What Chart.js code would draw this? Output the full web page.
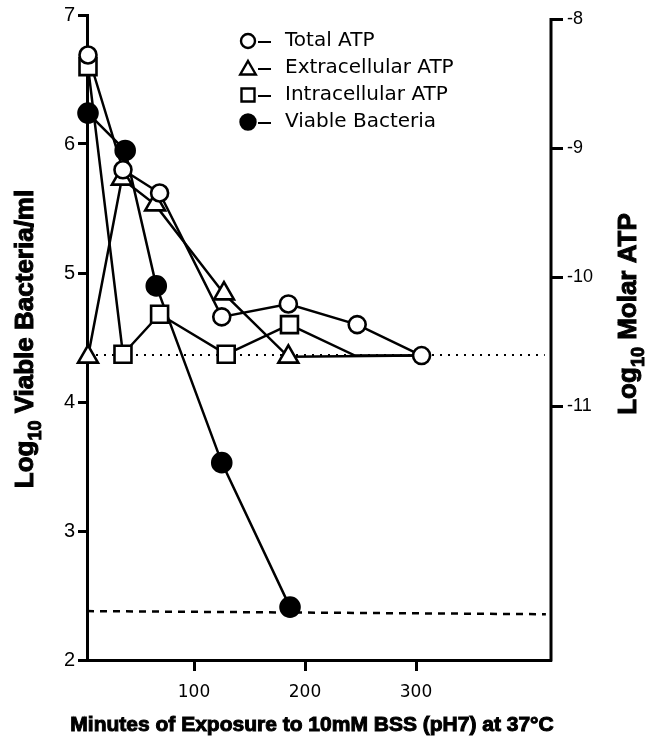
<!DOCTYPE html>
<html><head><meta charset="utf-8">
<script src="https://cdn.jsdelivr.net/npm/chart.js@4.4.1/dist/chart.umd.min.js"></script>
<style>html,body{margin:0;padding:0;background:#fff;} #wrap{width:657px;height:738px;}</style>
</head><body><div id="wrap"><canvas id="c" width="657" height="738"></canvas></div>
<script>
// ---- data ----
const xTicks = [100, 200, 300];
const leftTicks = [2, 3, 4, 5, 6, 7];
const rightTicks = [-11, -10, -9, -8];
const seriesLabels = ['Total ATP', 'Extracellular ATP', 'Intracellular ATP', 'Viable Bacteria'];
const totalX = [4.5, 36, 69, 125, 185, 247, 305];
const totalY = [6.69, 5.80, 5.62, 4.66, 4.76, 4.60, 4.36];
const extraX = [4.5, 35, 65, 127, 185, 305];
const extraY = [4.35, 5.73, 5.53, 4.84, 4.35, 4.36];
const extraMarker = [1, 1, 1, 1, 1, 0];
const intraX = [4.5, 36, 69, 129, 186, 245, 305];
const intraY = [6.60, 4.37, 4.68, 4.37, 4.60, 4.36, 4.36];
const intraMarker = [1, 1, 1, 1, 1, 0, 0];
const viableX = [4.5, 38, 66, 125, 186.5];
const viableY = [6.24, 5.95, 4.90, 3.53, 2.41];
const atpLimitX = [4.5, 416];
const atpLimitY = [4.365, 4.365];
const bactLimitX = [3.6, 417];
const bactLimitY = [2.379, 2.355];

const pts = (xs, ys) => xs.map((x, i) => ({x: x, y: ys[i]}));

const base = {type: 'line', clip: false, borderColor: '#000', tension: 0};
const markerDs = (label, xs, ys, style, r, fill, mask) => Object.assign({}, base, {
  label: label, data: pts(xs, ys), showLine: false, pointStyle: style,
  pointRadius: mask ? mask.map(m => m ? r : 0) : r,
  pointBackgroundColor: fill, pointBorderColor: '#000', pointBorderWidth: 2.6
});
const lineDs = (xs, ys, extra) => Object.assign({}, base, {
  label: '', data: pts(xs, ys), pointRadius: 0, borderWidth: 2.5
}, extra || {});

const datasets = [
  markerDs(seriesLabels[0], totalX, totalY, 'circle', 8.5, '#fff'),
  markerDs(seriesLabels[3], viableX, viableY, 'circle', 9.5, '#000'),
  markerDs(seriesLabels[1], extraX, extraY, 'triangle', 11.5, '#fff', extraMarker),
  markerDs(seriesLabels[2], intraX, intraY, 'rect', 12, '#fff', intraMarker),
  lineDs(totalX, totalY),
  lineDs(viableX, viableY),
  lineDs(extraX, extraY),
  lineDs(intraX, intraY),
  lineDs(atpLimitX, atpLimitY, {borderWidth: 2, borderDash: [2, 6]}),
  lineDs(bactLimitX, bactLimitY, {borderWidth: 2.5, borderDash: [7, 6]})
];

function drawMarker(ctx, style, x, y, r, fill) {
  ctx.save();
  ctx.lineWidth = 2.4; ctx.strokeStyle = '#000'; ctx.fillStyle = fill;
  ctx.beginPath();
  if (style === 'circle') ctx.arc(x, y, r, 0, Math.PI * 2);
  else if (style === 'triangle') {
    ctx.moveTo(x, y - r); ctx.lineTo(x + r * 0.866, y + r * 0.5); ctx.lineTo(x - r * 0.866, y + r * 0.5); ctx.closePath();
  } else { ctx.rect(x - r, y - r, 2 * r, 2 * r); }
  ctx.fill(); ctx.stroke();
  ctx.restore();
}

function rotTitle(ctx, bx, cy, parts) {
  ctx.save();
  ctx.translate(bx, cy); ctx.rotate(-Math.PI / 2);
  let total = 0;
  parts.forEach(p => { ctx.font = p.font; p.w = ctx.measureText(p.text).width; total += p.w; });
  let x = -total / 2;
  ctx.textBaseline = 'alphabetic'; ctx.textAlign = 'left';
  ctx.fillStyle = '#000'; ctx.strokeStyle = '#000'; ctx.lineWidth = 1;
  parts.forEach(p => { ctx.font = p.font; ctx.fillText(p.text, x, p.dy); ctx.strokeText(p.text, x, p.dy); x += p.w; });
  ctx.restore();
}

const decor = {
  id: 'decor',
  afterDraw(chart) {
    const ctx = chart.ctx, ca = chart.chartArea, y2 = chart.scales.y2;
    // right axis line from -8 down
    ctx.save();
    ctx.strokeStyle = '#000'; ctx.lineWidth = 3; ctx.lineCap = 'square';
    ctx.beginPath(); ctx.moveTo(ca.right, y2.getPixelForValue(-8)); ctx.lineTo(ca.right, ca.bottom); ctx.stroke();
    ctx.restore();
    // legend
    const styles = [['circle', 7, '#fff'], ['triangle', 9, '#fff'], ['rect', 6.5, '#fff'], ['circle', 7.5, '#000']];
    const rows = [41, 68, 95, 122];
    ctx.save();
    ctx.fillStyle = '#000'; ctx.font = '20px "DejaVu Sans"'; ctx.textBaseline = 'middle';
    [0, 1, 2, 3].forEach((k, i) => {
      const s = styles[k];
      drawMarker(ctx, s[0], 248, rows[i] + (s[0] === 'triangle' ? 2 : 0), s[1], s[2]);
      ctx.strokeStyle = '#000'; ctx.lineWidth = 2;
      ctx.beginPath(); ctx.moveTo(258, rows[i] + 1); ctx.lineTo(271, rows[i] + 1); ctx.stroke();
      ctx.fillStyle = '#000';
      ctx.fillText(seriesLabels[k], 285, rows[i]);
    });
    ctx.restore();
    // x title
    ctx.save();
    ctx.font = 'bold 21px "Liberation Sans"'; ctx.textAlign = 'center'; ctx.textBaseline = 'middle';
    ctx.fillStyle = '#000'; ctx.strokeStyle = '#000'; ctx.lineWidth = 1;
    const xt = 'Minutes of Exposure to 10mM BSS (pH7) at 37\u00B0C';
    ctx.fillText(xt, 312, 725); ctx.strokeText(xt, 312, 725);
    ctx.restore();
    // y titles
    rotTitle(ctx, 33, 339, [
      {text: 'Log', font: 'bold 26px "Liberation Sans"', dy: 0},
      {text: '10', font: 'bold 18px "Liberation Sans"', dy: 8},
      {text: ' Viable Bacteria/ml', font: 'bold 26px "Liberation Sans"', dy: 0}
    ]);
    rotTitle(ctx, 636, 314, [
      {text: 'Log', font: 'bold 26px "Liberation Sans"', dy: 0},
      {text: '10', font: 'bold 18px "Liberation Sans"', dy: 8},
      {text: ' Molar ATP', font: 'bold 26px "Liberation Sans"', dy: 0}
    ]);
  }
};

const fixTicks = vals => scale => { scale.ticks = vals.map(v => ({value: v})); };

new Chart(document.getElementById('c'), {
  type: 'line',
  data: {datasets: datasets},
  options: {
    responsive: false, animation: false, events: [],
    layout: {padding: {top: 13, left: 0, right: 0, bottom: 0}},
    plugins: {legend: {display: false}, tooltip: {enabled: false}},
    scales: {
      x: {
        type: 'linear', min: 3.6, max: 421.6,
        afterBuildTicks: fixTicks(xTicks),
        afterFit: s => { s.height = 78; },
        border: {display: true, width: 3, color: '#000'},
        grid: {drawOnChartArea: false, drawTicks: true, tickLength: 11, tickWidth: 3, tickColor: '#000'},
        ticks: {color: '#000', font: {family: 'DejaVu Sans', size: 17}, padding: 11, maxRotation: 0, autoSkip: false}
      },
      y: {
        type: 'linear', position: 'left', min: 2, max: 7,
        afterBuildTicks: fixTicks(leftTicks),
        afterFit: s => { s.width = 87; },
        border: {display: true, width: 3, color: '#000'},
        grid: {drawOnChartArea: false, drawTicks: true, tickLength: 9, tickWidth: 3, tickColor: '#000'},
        ticks: {color: '#000', font: {family: 'Liberation Sans', size: 20}, padding: 3}
      },
      y2: {
        type: 'linear', position: 'right', min: -12.965, max: -7.965,
        afterBuildTicks: fixTicks(rightTicks),
        afterFit: s => { s.width = 106; },
        border: {display: false},
        grid: {drawOnChartArea: false, drawTicks: true, tickLength: 12, tickWidth: 3, tickColor: '#000'},
        ticks: {color: '#000', font: {family: 'Liberation Sans', size: 18}, padding: 4}
      }
    }
  },
  plugins: [decor]
});
</script>
</body></html>
